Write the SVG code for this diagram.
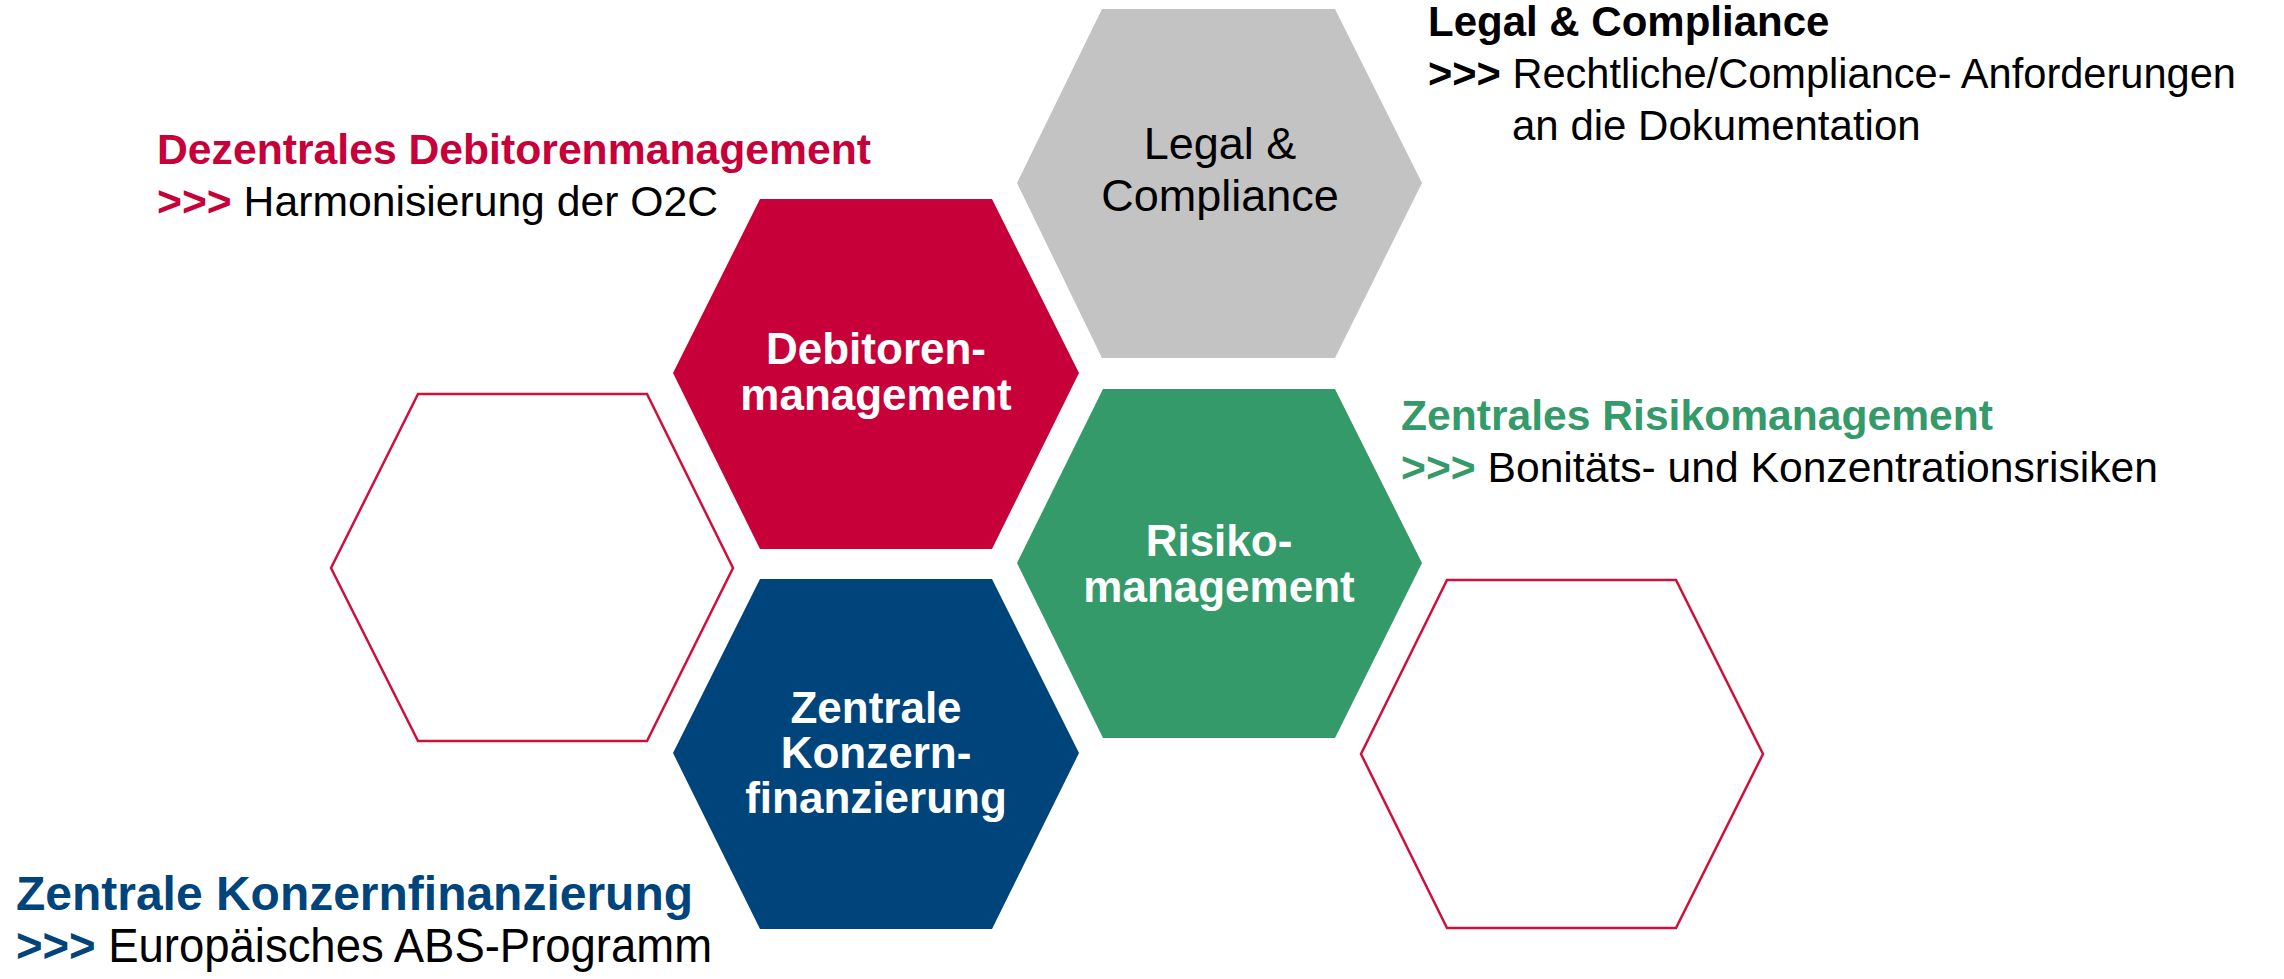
<svg xmlns="http://www.w3.org/2000/svg" width="2284" height="979" viewBox="0 0 2284 979">
<style>
text{font-family:"Liberation Sans",Arial,sans-serif}
.lbl{font-size:42px;fill:#000}
.big{font-size:48px}
.mid{font-size:43px}
.b{font-weight:bold}
.hx{font-size:44px;font-weight:bold;fill:#fff;text-anchor:middle}
.hxg{font-size:45px;fill:#000;text-anchor:middle}
.red{fill:#C8003A}
.blue{fill:#00447C}
.green{fill:#359A6A}
.outline{fill:#fff;stroke:#D0103A;stroke-width:2.5}
</style>
<rect width="2284" height="979" fill="#fff"/>
<g id="hex-legal">
<polygon points="1102,9 1335,9 1422,183 1335,358 1102,358 1017,183" fill="#C3C3C3"/>
<text class="hxg"><tspan x="1220" y="159">Legal &amp;</tspan><tspan x="1220" y="211">Compliance</tspan></text>
</g>
<g id="hex-debitoren">
<polygon class="red" points="760,199 992,199 1079,373 992,549 760,549 673,373"/>
<text class="hx"><tspan x="876" y="364">Debitoren-</tspan><tspan x="876" y="410">management</tspan></text>
</g>
<g id="hex-empty-left">
<polygon class="outline" points="418,394 647,394 733,568 647,741 418,741 331,568"/>
</g>
<g id="hex-risiko">
<polygon class="green" points="1103,389 1335,389 1422,563 1335,738 1103,738 1017,563"/>
<text class="hx"><tspan x="1219" y="556">Risiko-</tspan><tspan x="1219" y="602">management</tspan></text>
</g>
<g id="hex-konzern">
<polygon class="blue" points="760,579 992,579 1079,753 992,929 760,929 673,753"/>
<text class="hx"><tspan x="876" y="723">Zentrale</tspan><tspan x="876" y="768">Konzern-</tspan><tspan x="876" y="813">finanzierung</tspan></text>
</g>
<g id="hex-empty-right">
<polygon class="outline" points="1447,580 1676,580 1763,754 1676,928 1447,928 1361,754"/>
</g>
<g id="label-legal">
<text class="lbl b" x="1428" y="36">Legal &amp; Compliance</text>
<text class="lbl" x="1428" y="88" textLength="808" lengthAdjust="spacingAndGlyphs"><tspan class="b">&gt;&gt;&gt;</tspan> Rechtliche/Compliance- Anforderungen</text>
<text class="lbl" x="1512" y="140">an die Dokumentation</text>
</g>
<g id="label-debitoren">
<text class="lbl mid b red" x="157" y="164" textLength="714" lengthAdjust="spacingAndGlyphs">Dezentrales Debitorenmanagement</text>
<text class="lbl mid" x="157" y="216" textLength="561" lengthAdjust="spacingAndGlyphs"><tspan class="b red">&gt;&gt;&gt;</tspan> Harmonisierung der O2C</text>
</g>
<g id="label-risiko">
<text class="lbl b green" x="1401" y="430" textLength="592" lengthAdjust="spacingAndGlyphs">Zentrales Risikomanagement</text>
<text class="lbl" x="1401" y="482" textLength="757" lengthAdjust="spacingAndGlyphs"><tspan class="b green">&gt;&gt;&gt;</tspan> Bonitäts- und Konzentrationsrisiken</text>
</g>
<g id="label-konzern">
<text class="lbl big b blue" x="16" y="910" textLength="677" lengthAdjust="spacingAndGlyphs">Zentrale Konzernfinanzierung</text>
<text class="lbl big" x="16" y="962" textLength="696" lengthAdjust="spacingAndGlyphs"><tspan class="b blue">&gt;&gt;&gt;</tspan> Europäisches ABS-Programm</text>
</g>
<g id="connectors"/>
</svg>
